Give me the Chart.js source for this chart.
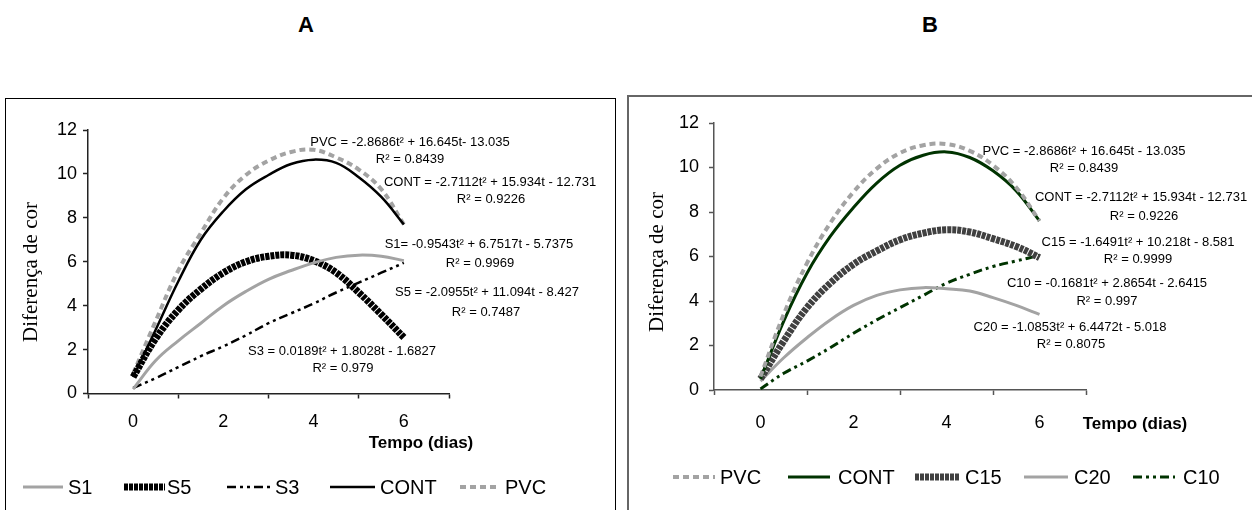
<!DOCTYPE html>
<html>
<head>
<meta charset="utf-8">
<script src="https://cdn.jsdelivr.net/npm/chart.js@4"></script>
<style>
  body { margin: 0; background: #fff; width: 1252px; height: 510px; overflow: hidden; position: relative; font-family: "Liberation Sans", Arial, sans-serif; }
  .ttl { position: absolute; top: 12px; font-weight: bold; font-size: 22px; transform: translateX(-50%); }
  .frame { position: absolute; box-sizing: border-box; }
  .box { position: absolute; }
</style>
</head>
<body>
<div class="ttl" style="left:306px">A</div>
<div class="ttl" style="left:930px">B</div>
<div class="frame" style="left:5px; top:98px; width:611px; height:440px; border:1px solid #000;"></div>
<div class="frame" style="left:627px; top:95px; width:640px; height:440px; border:2px solid #666;"></div>
<div class="box" style="left:6px; top:99px; width:608px; height:411px;"><canvas id="chartA"></canvas></div>
<div class="box" style="left:629px; top:97px; width:623px; height:413px;"><canvas id="chartB"></canvas></div>
<script>
  // === Data ===
  const days = [0, 0.5, 1, 1.5, 2, 2.5, 3, 3.5, 4, 4.5, 5, 5.5, 6];
  const xTickLabels = ['0', '2', '4', '6'];
  const yTicks = [0, 2, 4, 6, 8, 10, 12];

  // panel A
  const s1 = [0.2, 1.5, 2.4, 3.2, 4.0, 4.65, 5.2, 5.6, 5.95, 6.2, 6.3, 6.25, 6.05];
  const s5 = [0.75, 2.5, 3.8, 4.75, 5.5, 6.0, 6.25, 6.3, 6.05, 5.5, 4.6, 3.6, 2.55];
  const s3 = [0.25, 0.7, 1.2, 1.7, 2.15, 2.65, 3.2, 3.65, 4.1, 4.6, 5.05, 5.5, 5.95];
  const contA = [0.75, 2.9, 5.1, 7.0, 8.3, 9.3, 9.95, 10.45, 10.65, 10.5, 9.85, 8.95, 7.7];
  const pvcA = [0.9, 3.3, 5.6, 7.3, 8.9, 9.95, 10.6, 11.0, 11.1, 10.75, 10.2, 9.3, 7.7];

  // panel B
  const pvcB = [0.6, 3.4, 5.7, 7.5, 8.9, 9.95, 10.65, 11.0, 11.05, 10.75, 10.1, 9.1, 7.6];
  const contB = [0.5, 3.1, 5.25, 6.9, 8.2, 9.3, 10.1, 10.55, 10.7, 10.45, 9.85, 8.95, 7.6];
  const c15 = [0.5, 2.2, 3.7, 4.8, 5.65, 6.25, 6.75, 7.05, 7.2, 7.1, 6.8, 6.45, 5.95];
  const c20 = [0.4, 1.45, 2.35, 3.15, 3.8, 4.25, 4.5, 4.6, 4.55, 4.45, 4.15, 3.8, 3.4];
  const c10 = [0.05, 0.75, 1.3, 1.9, 2.55, 3.15, 3.7, 4.25, 4.8, 5.2, 5.55, 5.8, 6.05];

  const pts = arr => arr.map((v, i) => ({ x: days[i], y: v }));

  const GRAY = '#a3a3a3';
  const GREEN = '#003300';

  function line(label, data, color, width, dash) {
    return { label, data: pts(data), borderColor: color, borderWidth: width,
             borderDash: dash || [], pointRadius: 0, tension: 0.4, fill: false };
  }

  // equations, axis titles and legend are drawn here
  const notesPlugin = {
    id: 'notes',
    afterDraw(chart, args, opts) {
      const c = chart.ctx;
      c.save();
      c.fillStyle = '#000';
      for (const n of opts.items) {
        c.save();
        c.font = n.font || '13px "Liberation Sans", Arial, sans-serif';
        c.textAlign = 'center';
        c.textBaseline = 'middle';
        c.translate(n.x - opts.ox, n.y - opts.oy);
        if (n.rot) c.rotate(n.rot);
        c.fillText(n.text, 0, 0);
        c.restore();
      }
      const ly = opts.legendY - opts.oy;
      for (const it of opts.legend) {
        const ds = chart.data.datasets[it.i];
        c.save();
        c.strokeStyle = ds.borderColor;
        c.lineWidth = ds.borderWidth;
        c.setLineDash(ds.borderDash);
        c.beginPath();
        c.moveTo(it.x1 - opts.ox, ly);
        c.lineTo(it.x2 - opts.ox, ly);
        c.stroke();
        c.restore();
        c.font = '20px "Liberation Sans", Arial, sans-serif';
        c.textAlign = 'left';
        c.textBaseline = 'middle';
        c.fillText(ds.label, it.tx - opts.ox, ly + 1);
      }
      c.restore();
    }
  };

  function makeChart(id, datasets, p, notes) {
    return new Chart(document.getElementById(id), {
      type: 'line',
      data: { datasets },
      plugins: [notesPlugin],
      options: {
        responsive: true,
        maintainAspectRatio: false,
        animation: false,
        layout: { padding: { left: p.left, top: p.top, right: p.right, bottom: 0 } },
        plugins: { legend: { display: false }, tooltip: { enabled: false }, notes },
        scales: {
          x: {
            type: 'linear', min: -1, max: 7,
            afterFit: s => { s.height = p.xh; },
            afterBuildTicks: s => { s.ticks = [-1, 0, 1, 2, 3, 4, 5, 6, 7].map(v => ({ value: v })); },
            border: { display: true, color: p.axis, width: 1.5 },
            grid: { drawOnChartArea: false, tickLength: 5, tickWidth: 1.5,
                    tickColor: ctx => (ctx.tick && ctx.tick.value % 2 !== 0) ? p.axis : 'rgba(0,0,0,0)' },
            ticks: {
              autoSkip: false, maxRotation: 0, padding: p.xpad, color: '#000',
              font: { family: '"Liberation Sans", Arial, sans-serif', size: 18 },
              callback: v => (v % 2 === 0 ? xTickLabels[v / 2] : '')
            }
          },
          y: {
            min: 0, max: 12,
            afterFit: s => { s.width = p.yw; },
            afterBuildTicks: s => { s.ticks = yTicks.map(v => ({ value: v })); },
            border: { display: true, color: p.axis, width: 1.5 },
            grid: { drawOnChartArea: false, tickLength: 5, tickWidth: 1.5, tickColor: p.axis },
            ticks: { padding: p.ypad, color: '#000',
                     font: { family: '"Liberation Sans", Arial, sans-serif', size: 18 } }
          }
        }
      }
    });
  }

  const serif = '21px "Liberation Serif", "Times New Roman", serif';
  const bold = 'bold 17px "Liberation Sans", Arial, sans-serif';

  // === Panel A ===
  makeChart('chartA', [
    line('S1', s1, GRAY, 3),
    line('S5', s5, '#000', 7, [4, 1]),
    line('S3', s3, '#000', 2.5, [9, 4, 3, 4, 3, 4]),
    line('CONT', contA, '#000', 2.5),
    line('PVC', pvcA, GRAY, 4, [6, 4])
  ], { left: 10, top: 31, right: 165, xh: 116.5, yw: 72, xpad: 13, ypad: 6, axis: '#222' }, {
    ox: 6, oy: 99,
    items: [
      { text: 'PVC = -2.8686t² + 16.645t- 13.035', x: 410, y: 142 },
      { text: 'R² = 0.8439', x: 410, y: 159 },
      { text: 'CONT = -2.7112t² + 15.934t - 12.731', x: 490, y: 182 },
      { text: 'R² = 0.9226', x: 491, y: 199 },
      { text: 'S1= -0.9543t² + 6.7517t - 5.7375', x: 479, y: 244 },
      { text: 'R² = 0.9969', x: 480, y: 263 },
      { text: 'S5 = -2.0955t² + 11.094t - 8.427', x: 487, y: 292 },
      { text: 'R² = 0.7487', x: 486, y: 312 },
      { text: 'S3 = 0.0189t² + 1.8028t - 1.6827', x: 342, y: 351 },
      { text: 'R² = 0.979', x: 343, y: 368 },
      { text: 'Tempo (dias)', x: 421, y: 443, font: bold },
      { text: 'Diferença de cor', x: 31, y: 272, font: serif, rot: -Math.PI / 2 }
    ],
    legendY: 487,
    legend: [
      { i: 0, x1: 23, x2: 63, tx: 68 },
      { i: 1, x1: 124, x2: 165, tx: 167 },
      { i: 2, x1: 227, x2: 272, tx: 275 },
      { i: 3, x1: 330, x2: 375, tx: 380 },
      { i: 4, x1: 460, x2: 500, tx: 505 }
    ]
  });

  // === Panel B ===
  makeChart('chartB', [
    line('PVC', pvcB, GRAY, 4, [6, 4]),
    line('CONT', contB, GREEN, 3),
    line('C15', c15, '#404040', 7, [4, 1]),
    line('C20', c20, GRAY, 3),
    line('C10', c10, GREEN, 3, [9, 4, 3, 4, 3, 4])
  ], { left: 10, top: 26, right: 166, xh: 120, yw: 75, xpad: 17, ypad: 10, axis: '#555' }, {
    ox: 629, oy: 97,
    items: [
      { text: 'PVC = -2.8686t² + 16.645t - 13.035', x: 1084, y: 151 },
      { text: 'R² = 0.8439', x: 1084, y: 168 },
      { text: 'CONT = -2.7112t² + 15.934t - 12.731', x: 1141, y: 197 },
      { text: 'R² = 0.9226', x: 1144, y: 216 },
      { text: 'C15 = -1.6491t² + 10.218t - 8.581', x: 1138, y: 242 },
      { text: 'R² = 0.9999', x: 1138, y: 259 },
      { text: 'C10 = -0.1681t² + 2.8654t - 2.6415', x: 1107, y: 283 },
      { text: 'R² = 0.997', x: 1107, y: 301 },
      { text: 'C20 = -1.0853t² + 6.4472t - 5.018', x: 1070, y: 327 },
      { text: 'R² = 0.8075', x: 1071, y: 344 },
      { text: 'Tempo (dias)', x: 1135, y: 424, font: bold },
      { text: 'Diferença de cor', x: 657, y: 262, font: serif, rot: -Math.PI / 2 }
    ],
    legendY: 477,
    legend: [
      { i: 0, x1: 673, x2: 715, tx: 720 },
      { i: 1, x1: 788, x2: 830, tx: 838 },
      { i: 2, x1: 915, x2: 960, tx: 965 },
      { i: 3, x1: 1024, x2: 1068, tx: 1074 },
      { i: 4, x1: 1133, x2: 1175, tx: 1183 }
    ]
  });
</script>
</body>
</html>
